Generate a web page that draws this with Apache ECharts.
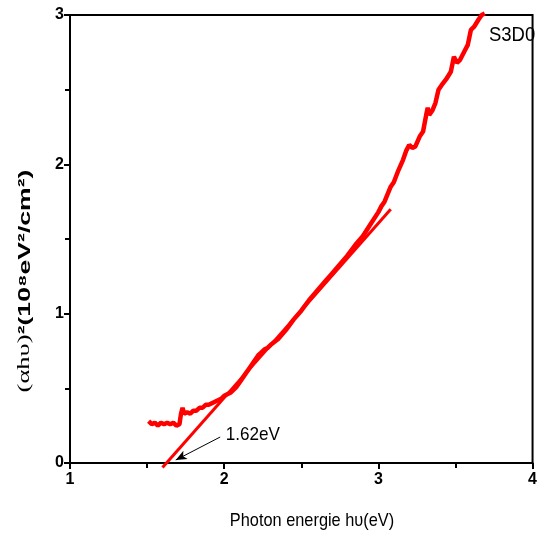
<!DOCTYPE html>
<html>
<head>
<meta charset="utf-8">
<script src="https://cdn.jsdelivr.net/npm/echarts@6/dist/echarts.min.js"></script>
<style>html,body{margin:0;padding:0;background:#fff}#c{width:540px;height:535px}</style>
</head>
<body>
<div id="c"></div>
<script>
// Measured curve: photon energy (eV)
var energy = [1.51,1.53,1.55,1.57,1.59,1.61,1.63,1.65,1.67,1.69,1.71,1.72,1.73,1.74,1.76,1.78,1.80,1.82,1.84,1.86,1.88,1.90,1.92,1.94,1.96,1.98,2.00,2.02,2.04,2.06,2.08,2.10,2.12,2.14,2.16,2.18,2.20,2.22,2.24,2.26,2.28,2.30,2.35,2.40,2.45,2.50,2.55,2.60,2.65,2.70,2.75,2.80,2.85,2.90,2.95,3.00,3.02,3.04,3.06,3.08,3.10,3.13,3.16,3.18,3.20,3.22,3.24,3.27,3.29,3.31,3.32,3.33,3.35,3.37,3.39,3.41,3.44,3.47,3.49,3.51,3.53,3.56,3.58,3.60,3.62,3.65,3.67,3.69];
// (alpha h nu)^2 in 1e8 eV^2/cm^2
var absorb = [0.28,0.26,0.27,0.25,0.27,0.26,0.27,0.26,0.27,0.25,0.26,0.33,0.37,0.33,0.34,0.33,0.35,0.35,0.37,0.37,0.39,0.39,0.40,0.41,0.42,0.43,0.45,0.46,0.47,0.49,0.51,0.54,0.57,0.60,0.63,0.66,0.69,0.72,0.74,0.76,0.77,0.79,0.83,0.89,0.96,1.02,1.09,1.15,1.21,1.27,1.33,1.39,1.46,1.52,1.60,1.68,1.72,1.75,1.80,1.85,1.88,1.96,2.03,2.09,2.13,2.11,2.12,2.19,2.22,2.33,2.38,2.33,2.36,2.41,2.50,2.53,2.57,2.62,2.72,2.68,2.70,2.76,2.80,2.90,2.92,2.97,3.00,3.01];
// Linear fit (Tauc extrapolation)
var fitX = [1.60, 3.08];
var fitY = [-0.03, 1.70];
// Arrow annotation (tail -> head) and label
var arrowFrom = [1.974, 0.174];
var arrowTo = [1.686, 0.02];
var gapLabel = '1.62eV';
var gapLabelPos = [2.01, 0.19];
var xTicks = [1, 2, 3, 4];
var yTicks = [0, 1, 2, 3];
var sampleName = 'S3D0';

var curve = energy.map(function (e, i) { return [e, absorb[i]]; });
var fit = fitX.map(function (e, i) { return [e, fitY[i]]; });

var chart = echarts.init(document.getElementById('c'), null, {renderer: 'canvas'});
var option = {
  animation: false,
  backgroundColor: '#fff',
  grid: {left: 70, right: 2, top: 15, bottom: 72, show: true, borderColor: '#000', borderWidth: 2, backgroundColor: 'transparent'},
  xAxis: {
    type: 'value', min: xTicks[0], max: xTicks[xTicks.length - 1], interval: 1,
    axisLine: {lineStyle: {color: '#000', width: 2}},
    axisTick: {inside: false, length: 6, lineStyle: {color: '#000', width: 2}},
    minorTick: {show: true, splitNumber: 2, length: 5, lineStyle: {color: '#000', width: 2}},
    splitLine: {show: false},
    axisLabel: {color: '#000', fontFamily: 'Liberation Sans, Arial', fontWeight: 'bold', fontSize: 16, margin: 9, alignMinLabel: 'center', alignMaxLabel: 'center', hideOverlap: false}
  },
  yAxis: {
    type: 'value', min: yTicks[0], max: yTicks[yTicks.length - 1], interval: 1,
    axisLine: {lineStyle: {color: '#000', width: 2}},
    axisTick: {inside: false, length: 6, lineStyle: {color: '#000', width: 2}},
    minorTick: {show: true, splitNumber: 2, length: 5, lineStyle: {color: '#000', width: 2}},
    splitLine: {show: false},
    axisLabel: {color: '#000', fontFamily: 'Liberation Sans, Arial', fontWeight: 'bold', fontSize: 16, margin: 6}
  },
  series: [
    {
      type: 'line', data: curve, showSymbol: false, clip: false,
      lineStyle: {color: '#ff0000', width: 4.5}, z: 3
    },
    {
      type: 'line', data: fit, showSymbol: false, clip: false,
      lineStyle: {color: '#ff0000', width: 3}, z: 3,
      markLine: {
        silent: true, symbol: ['none', 'arrow'], symbolSize: [7, 11],
        lineStyle: {color: '#000', width: 1, type: 'solid'},
        label: {show: false},
        data: [[{coord: arrowFrom}, {coord: arrowTo}]]
      }
    }
  ]
};
chart.setOption(option);
var lp = chart.convertToPixel({gridIndex: 0}, gapLabelPos);
chart.setOption({
  graphic: [
    {type: 'text', x: 489, y: 35, scaleX: 0.88, z: 1, style: {text: sampleName, font: '21px "Liberation Sans", Arial', fill: '#000', verticalAlign: 'middle'}},
    {type: 'text', x: lp[0], y: lp[1], scaleX: 0.9, style: {text: gapLabel, font: '19px "Liberation Sans", Arial', fill: '#000', verticalAlign: 'middle'}},
    {type: 'text', x: 312, y: 521, scaleX: 0.86, style: {text: 'Photon energie hυ(eV)', font: '19px "Liberation Sans", Arial', fill: '#000', align: 'center', verticalAlign: 'middle'}},
    {type: 'text', x: 25, y: 281, rotation: Math.PI / 2, scaleX: 1.4, scaleY: 0.9, style: {
      text: '{a|(αhυ)}{b|²(10⁸eV²/cm²)}', align: 'center', verticalAlign: 'middle',
      rich: {
        a: {font: '19px "Liberation Serif", serif', fill: '#000'},
        b: {font: 'bold 19px "Liberation Sans", Arial', fill: '#000'}
      }
    }}
  ]
});
</script>
</body>
</html>
